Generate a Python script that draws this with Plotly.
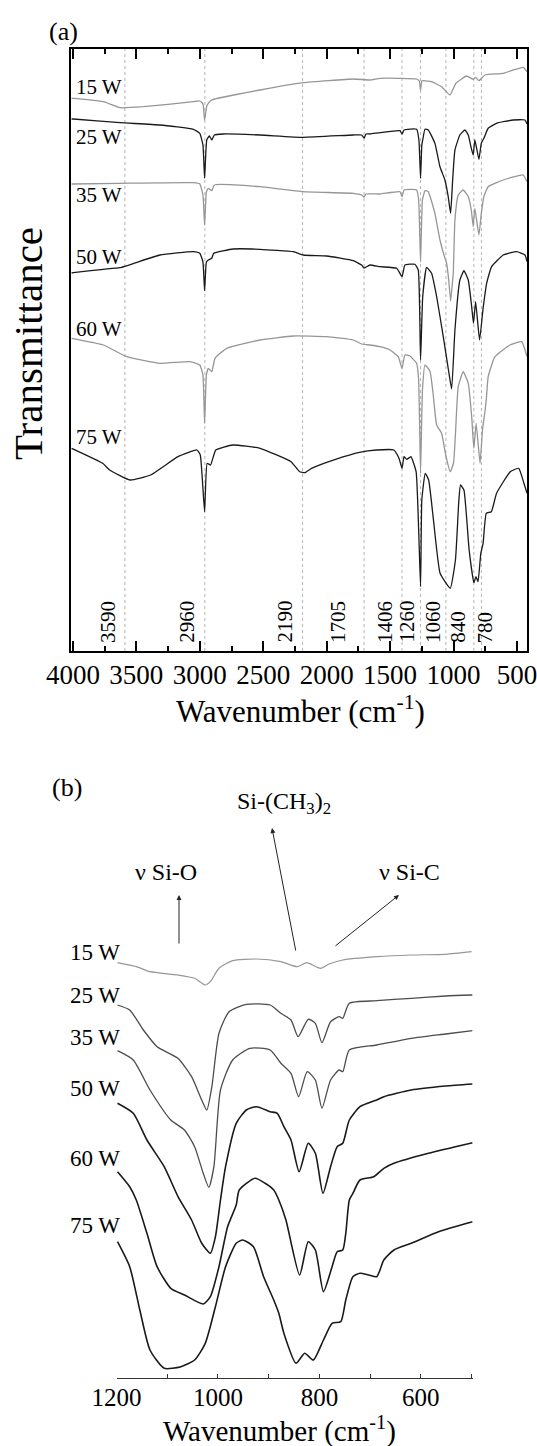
import plotly.graph_objects as go

# ---------------------------------------------------------------
# FTIR spectra of plasma-polymerised films deposited at different
# RF powers.  Values are offset transmittance in arbitrary units.
# ---------------------------------------------------------------
powers = ["15 W", "25 W", "35 W", "50 W", "60 W", "75 W"]

# ---- (a) full range, 4000-420 cm-1 ----
a15_wn = [4010, 3997, 3760, 3629, 3445, 3051, 3000, 2975, 2962, 2945, 2933, 2906, 2525, 2185,
          1790, 1659, 1580, 1422, 1291, 1270, 1260, 1250, 1239, 1173, 1094, 1028, 981, 897,
          845, 826, 800, 753, 608, 451, 421]
a15_t = [552.5, 552.7, 549.3, 543.3, 544.3, 549.3, 550, 547, 531, 545, 547.7, 551, 561, 568.3,
         572, 571, 572.7, 572.7, 572, 570, 561, 570, 570.3, 569.3, 564.3, 556, 567.7, 575,
         571.7, 573.7, 570.3, 576, 577.7, 583.7, 579.3]

a25_wn = [4010, 3997, 3629, 3314, 3051, 3000, 2975, 2962, 2945, 2925, 2905, 2885, 2815, 2525,
          2185, 1790, 1724, 1705, 1690, 1659, 1580, 1422, 1406, 1390, 1291, 1273, 1260, 1250,
          1243, 1225, 1199, 1147, 1107, 1068, 1042, 1023, 1007, 989, 950, 910, 884, 863, 845,
          832, 800, 781, 761, 727, 661, 530, 437, 421]
a25_t = [532, 532, 528.3, 526, 521.7, 517.7, 506, 472.7, 511, 515, 511, 516, 517, 516,
         513.7, 516, 516, 513, 517, 517, 518.3, 520.3, 517, 521, 521.7, 511, 472.7, 506,
         511, 521.7, 521, 507.7, 484.3, 471, 454.3, 437.7, 471, 501, 516, 521, 516, 504.3, 496,
         511, 491.7, 507.7, 512.7, 522.7, 527.7, 531, 531, 527]

a35_wn = [4010, 3629, 3051, 3000, 2975, 2962, 2948, 2933, 2906, 2885, 2525, 2185, 1790, 1724,
          1705, 1690, 1580, 1422, 1406, 1390, 1291, 1275, 1260, 1245, 1225, 1199, 1147, 1107,
          1068, 1055, 1038, 1023, 1007, 1002, 989, 963, 924, 884, 860, 845, 832, 800, 781, 761,
          727, 608, 451, 421]
a35_t = [467, 467.7, 468.3, 467, 456, 426, 459, 462.7, 460.3, 466, 464.3, 459.3, 457.7, 456,
         454, 457, 457, 459.3, 454.3, 461, 461, 451, 389, 451, 460.3, 459.3, 437.7, 411,
         393, 388, 371, 350, 371, 377.7, 431, 456, 461, 454.3, 441, 424.3, 442.7, 416, 437.7, 454.3,
         464.3, 471, 476, 469.3]

a50_wn = [4010, 3997, 3760, 3629, 3314, 3051, 3000, 2975, 2962, 2948, 2933, 2906, 2890, 2736,
          2525, 2263, 2185, 2000, 1790, 1724, 1705, 1659, 1580, 1448, 1406, 1383, 1304, 1278,
          1260, 1243, 1212, 1173, 1133, 1081, 1040, 1015, 989, 950, 918, 884, 857, 843, 826,
          795, 767, 739, 700, 608, 503, 437, 421]
a50_t = [378, 378.3, 381.7, 383.3, 396, 399.3, 397.7, 389, 360.3, 389, 391, 392.7, 397.7, 402,
         401.7, 399.3, 396, 395, 390.3, 386, 383, 386, 384.3, 382.7, 374.3, 386, 386.7, 381,
         291, 354.3, 383.7, 377.7, 354.3, 314.3, 281, 262, 321, 371, 380.3, 371, 344.3, 327.7, 349.3,
         311, 342.7, 367.7, 384.3, 396, 399.3, 396, 389.3]

a60_wn = [4010, 3760, 3576, 3314, 3077, 3000, 2975, 2962, 2948, 2933, 2906, 2880, 2788, 2525,
          2263, 2000, 1790, 1724, 1659, 1580, 1501, 1436, 1406, 1383, 1344, 1291, 1275, 1260,
          1245, 1225, 1186, 1160, 1133, 1094, 1060, 1026, 1000, 985, 963, 924, 884, 857, 840,
          822, 791, 772, 753, 742, 727, 674, 556, 463, 421]
a60_t = [312.7, 306, 294.3, 287.7, 289.3, 286, 276, 227.7, 276, 282.7, 279.3, 292.7, 302.7, 311,
         315, 314.3, 311, 307, 306, 304.3, 301, 294.3, 282.7, 296, 295, 287.7, 271, 177.7,
         261, 286, 280, 256, 226, 217.7, 195, 179.3, 188, 217, 264.3, 279.3, 267.7, 234.3, 202.7,
         227.7, 187.7, 221, 239, 251, 274.3, 294.3, 306, 309.3, 294.3]

a75_wn = [4010, 3765, 3711, 3550, 3387, 3172, 3022, 2996, 2962, 2942, 2915, 2874, 2739, 2525,
          2281, 2213, 2173, 2119, 1930, 1741, 1606, 1471, 1430, 1406, 1390, 1369, 1336, 1295,
          1260, 1250, 1223, 1196, 1161, 1106, 1026, 985, 958, 945, 918, 877, 840, 823, 807,
          785, 767, 742, 702, 661, 553, 486, 445, 421]
a75_t = [202.7, 187.7, 181, 171, 176, 194.3, 201, 196, 139.3, 187.7, 186, 201, 206, 202.7,
         189.3, 179.3, 178.3, 182.7, 191.7, 198.7, 201, 201, 192.7, 182.7, 194.3, 191.7, 194.3, 179.3,
         64.3, 151, 177.7, 171, 134.3, 77.7, 62.7, 91, 151, 166, 161, 101, 68.3, 74.3, 69.3,
         97.7, 107.7, 137.7, 139.3, 157.7, 179.3, 182.7, 167.7, 157.7]

# assigned band positions (cm-1)
bands = [3590, 2960, 2190, 1705, 1406, 1260, 1060, 840, 780]

# ---- (b) fingerprint region, 1200-500 cm-1 ----
b15_wn = [1198, 1161, 1134, 1079, 1046, 1025, 1015, 998, 971, 924, 876, 844, 825, 798, 781,
          754, 687, 619, 551, 500]
b15_t = [415.6, 411.6, 406.6, 403.3, 400, 393.3, 396.6, 410, 417.6, 419.3, 416.6, 411.6, 415.6,
         410, 414.3, 418.3, 421.6, 423.3, 424, 426.6]

b25_wn = [1198, 1174, 1147, 1120, 1079, 1052, 1032, 1022, 1012, 998, 978, 944, 897, 876, 856,
          842, 822, 808, 795, 778, 761, 754, 741, 687, 619, 551, 498]
b25_t = [373.3, 368.3, 348.3, 331.6, 320, 301.6, 278.3, 268.3, 291.6, 345, 366.6, 374, 373.3,
         365, 358.3, 341.6, 359, 355, 335.6, 356.6, 361.6, 360, 375, 377.6, 380, 382.3, 383.3]

b35_wn = [1198, 1167, 1134, 1093, 1066, 1046, 1029, 1018, 1008, 995, 971, 937, 897, 876, 856,
          841, 824, 808, 795, 778, 761, 754, 741, 687, 619, 551, 498]
b35_t = [327.6, 318.3, 288.3, 258.3, 248.3, 231.6, 205, 191, 211.6, 288.3, 318.3, 330, 328.3,
         315, 305, 281.6, 306.6, 298.3, 270, 298.3, 308.3, 306.6, 328.3, 333.3, 340, 344.3, 347.6]

b50_wn = [1198, 1167, 1140, 1106, 1079, 1052, 1032, 1015, 1005, 995, 985, 964, 944, 924, 897,
          883, 870, 856, 840, 822, 808, 793, 778, 765, 754, 741, 720, 687, 673, 619, 551, 498]
b50_t = [275, 265, 238.3, 211.6, 182, 158.3, 135, 125, 141.6, 178.3, 211.6, 255, 268.3, 271.6,
         266.6, 265, 251.6, 238.3, 206.6, 235, 225, 185, 211.6, 231.6, 235, 258.3, 271.6, 278.3,
         281.6, 288.3, 292.3, 294.3]

b60_wn = [1198, 1174, 1161, 1140, 1120, 1093, 1066, 1029, 1015, 998, 981, 964, 958, 927, 907,
          890, 880, 866, 839, 822, 808, 792, 775, 765, 754, 748, 741, 734, 720, 693, 673, 653,
          585, 498]
b60_t = [206.6, 191.6, 178.3, 145, 111.6, 90, 83.3, 74.3, 81.6, 111.6, 151.6, 173.3, 188.3, 200,
         195, 188.3, 178.3, 158.3, 103.3, 136.6, 128.3, 86.6, 111.6, 126.6, 128.3, 145, 178.3,
         185, 198.3, 201.6, 210, 215, 225, 235.6]

b75_wn = [1198, 1174, 1154, 1134, 1106, 1073, 1046, 1025, 1005, 985, 964, 951, 930, 910, 890,
          880, 870, 846, 829, 812, 792, 775, 758, 748, 734, 720, 703, 687, 673, 653, 619, 565, 498]
b75_t = [136.6, 111.6, 68.3, 28.3, 10, 11.6, 18.3, 35, 71.6, 111.6, 135, 138.3, 131.6, 101.6,
         78.3, 65, 45, 15, 25, 18.3, 38.3, 55, 56.6, 78.3, 101.6, 105, 103.3, 101.6, 118.3,
         128.3, 135, 146.6, 156.6]

# ---------------------------------------------------------------
W, H = 537, 1446
FONT = "Liberation Serif, Times New Roman, serif"
GRAY, BLACK, DARK = "#969696", "#1a1a1a", "#4d4d4d"


def P(x, y):
    """page pixel -> paper coordinates"""
    return x / W, 1 - y / H


fig = go.Figure()

panel_a = [(a15_wn, a15_t), (a25_wn, a25_t), (a35_wn, a35_t),
           (a50_wn, a50_t), (a60_wn, a60_t), (a75_wn, a75_t)]
colors_a = [GRAY, BLACK, GRAY, BLACK, GRAY, BLACK]
for name, (wn, t), c in zip(powers, panel_a, colors_a):
    fig.add_trace(go.Scatter(x=wn, y=t, mode="lines", name=name,
                             line=dict(color=c, width=1.3, shape="spline", smoothing=0.4),
                             xaxis="x", yaxis="y", showlegend=False))

panel_b = [(b15_wn, b15_t), (b25_wn, b25_t), (b35_wn, b35_t),
           (b50_wn, b50_t), (b60_wn, b60_t), (b75_wn, b75_t)]
colors_b = [GRAY, DARK, DARK, BLACK, BLACK, BLACK]
widths_b = [1.2, 1.3, 1.3, 1.6, 1.6, 1.6]
for name, (wn, t), c, w in zip(powers, panel_b, colors_b, widths_b):
    fig.add_trace(go.Scatter(x=wn, y=t, mode="lines", name=name,
                             line=dict(color=c, width=w, shape="spline", smoothing=0.6),
                             xaxis="x2", yaxis="y2", showlegend=False))

# dotted guide lines at the assigned bands
shapes = [dict(type="line", xref="x", yref="y domain", x0=b, x1=b, y0=0, y1=1,
               line=dict(color="#b4b4b4", width=1, dash="dot"), layer="below")
          for b in bands]

ann = []


def text(x, y, s, size, xanchor="center", **kw):
    px, py = P(x, y)
    ann.append(dict(x=px, y=py, xref="paper", yref="paper", text=s, showarrow=False,
                    xanchor=xanchor, yanchor="middle",
                    font=dict(family=FONT, size=size, color="black"), **kw))


# panel letters and axis titles
text(63, 31, "(a)", 26)
text(67, 788, "(b)", 26)
text(28, 344, "Transmittance", 41, textangle=-90)
text(300, 709, "Wavenumber (cm<sup>-1</sup>)", 31)
text(279, 1429, "Wavenumber (cm<sup>-1</sup>)", 29)

# power labels
label_y_a = [87, 137, 195, 257, 329, 437]
for s, y in zip(powers, label_y_a):
    text(74, y, s, 21, xanchor="left")
label_y_b = [952, 995, 1037, 1088, 1158, 1225]
for s, y in zip(powers, label_y_b):
    text(122, y, s, 23, xanchor="right")

# band labels (rotated) along the bottom of panel (a)
band_shift = [-17, -18, -18, -26, -17, -14, -13, -16, 4]
for b, dx in zip(bands, band_shift):
    ann.append(dict(x=b, y=1 - 645 / H, xref="x", yref="paper", text=str(b), textangle=-90,
                    showarrow=False, xshift=dx, yanchor="bottom", xanchor="center",
                    font=dict(family=FONT, size=21, color="black")))

# assignments in panel (b)
text(284, 803, "Si-(CH<sub>3</sub>)<sub>2</sub>", 24)
text(166, 872, "\u03bd Si-O", 24)
text(409, 872, "\u03bd Si-C", 24)


def arrow(head, tail):
    hx, hy = P(*head)
    ann.append(dict(x=hx, y=hy, xref="paper", yref="paper", text="", showarrow=True,
                    ax=tail[0] - head[0], ay=tail[1] - head[1], axref="pixel", ayref="pixel",
                    arrowhead=2, arrowsize=1, arrowwidth=1, arrowcolor="#222", standoff=0))


arrow((272, 828), (296, 952))
arrow((179, 895), (179, 945))
arrow((399, 895), (334, 947))

fig.update_layout(
    template="none",
    width=W, height=H, margin=dict(l=0, r=0, t=0, b=0, pad=0, autoexpand=False),
    paper_bgcolor="white", plot_bgcolor="white",
    font=dict(family=FONT, color="black"),
    shapes=shapes, annotations=ann,
    xaxis=dict(domain=[71 / W, 527 / W], range=[4015, 421], anchor="y", automargin=False,
               tick0=0, dtick=500, ticks="inside", ticklen=10, tickwidth=2, tickcolor="black",
               minor=dict(dtick=250, ticks="inside", ticklen=5, tickwidth=1.5, tickcolor="black"),
               showline=True, linewidth=2, linecolor="black", mirror="ticks",
               showgrid=False, zeroline=False, ticklabelstandoff=-1,
               ticklabeloverflow="allow",
               tickfont=dict(family=FONT, size=27, color="black")),
    yaxis=dict(domain=[1 - 651 / H, 1 - 49 / H], range=[0, 602], anchor="x", automargin=False,
               showline=True, linewidth=2, linecolor="black", mirror=True,
               showticklabels=False, ticks="", showgrid=False, zeroline=False),
    xaxis2=dict(domain=[116.5 / W, 472.6 / W], range=[1200, 498], anchor="y2", automargin=False,
                tick0=0, dtick=200, ticks="inside", ticklen=4, tickwidth=1, tickcolor="#333",
                minor=dict(dtick=100, ticks="inside", ticklen=4, tickwidth=1, tickcolor="#333"),
                showline=True, linewidth=1.2, linecolor="#333",
                showgrid=False, zeroline=False, ticklabelstandoff=-3,
                ticklabeloverflow="allow",
                tickfont=dict(family=FONT, size=25, color="black")),
    yaxis2=dict(domain=[1 - 1378.3 / H, 1 - 795 / H], range=[0, 583.3], anchor="x2",
                automargin=False, visible=False),
)

fig.write_html("out.html")
